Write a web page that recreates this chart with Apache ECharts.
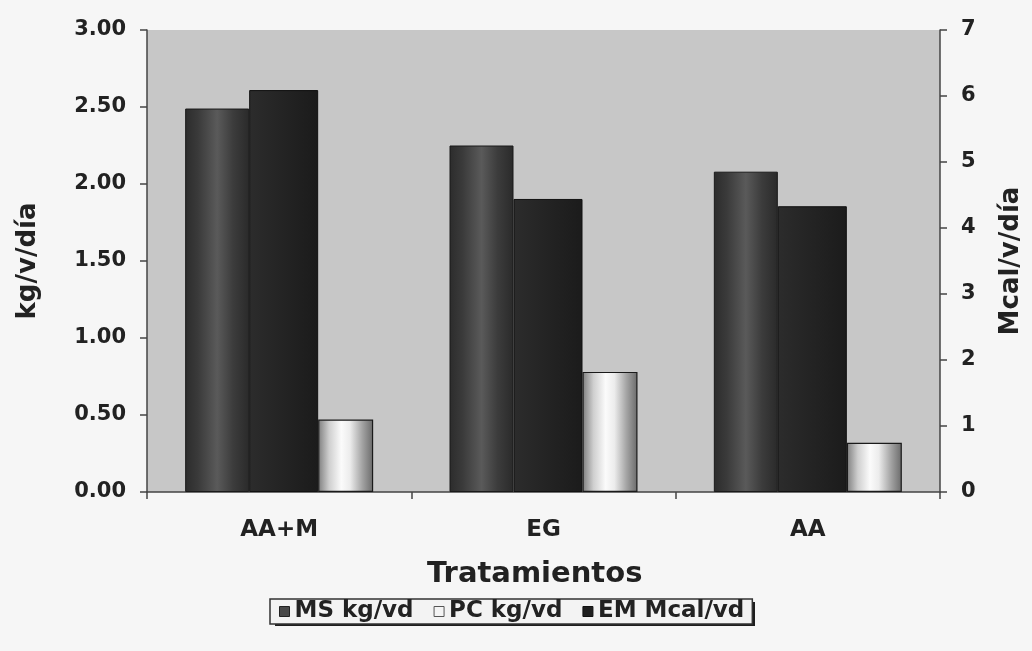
<!DOCTYPE html>
<html>
<head>
<meta charset="utf-8">
<title>Consumo por tratamiento</title>
<script src="https://cdn.jsdelivr.net/npm/echarts@6/dist/echarts.min.js"></script>
<style>
  html, body { margin: 0; padding: 0; background: #f6f6f6; }
  #chart { width: 1032px; height: 651px; }
</style>
</head>
<body>
<div id="chart"></div>
<script>
// Tratamientos en el eje de categorías
const categories = ['AA+M', 'EG', 'AA'];

// Consumo diario por vaca
const msKg = [2.49, 2.25, 2.08];     // MS kg/v/d (eje izquierdo)
const pcKg = [0.47, 0.78, 0.32];     // PC kg/v/d (eje izquierdo)
const emMcal = [6.09, 4.44, 4.33];   // EM Mcal/v/d (eje derecho)

// Nombres de series y títulos de ejes
const seriesNames = ['MS kg/vd', 'PC kg/vd', 'EM Mcal/vd'];
const leftAxisTitle = 'kg/v/día';
const rightAxisTitle = 'Mcal/v/día';
const xAxisTitle = 'Tratamientos';

// Escalas de los ejes
const leftMax = 3, leftStep = 0.5;
const rightMax = 7, rightStep = 1;

const FONT = '"DejaVu Sans", "Liberation Sans", Arial, sans-serif';
const INK = '#222';

function hGrad(stops) {
  return {
    type: 'linear', x: 0, y: 0, x2: 1, y2: 0,
    colorStops: stops.map(([o, c]) => ({ offset: o, color: c }))
  };
}

const msFill = hGrad([[0, '#2c2c2c'], [0.2, '#3a3a3a'], [0.5, '#5a5a5a'], [0.75, '#3c3c3c'], [1, '#2a2a2a']]);
const emFill = hGrad([[0, '#2c2c2c'], [0.4, '#252525'], [1, '#1b1b1b']]);
const pcFill = hGrad([[0, '#7e7e7e'], [0.2, '#cfcfcf'], [0.42, '#fbfbfb'], [0.58, '#ececec'], [0.8, '#a4a4a4'], [1, '#6a6a6a']]);

// Caja de la leyenda y su sombra
const LEG_X = 270, LEG_Y = 599, LEG_W = 480, LEG_H = 24;

const chart = echarts.init(document.getElementById('chart'), null, { renderer: 'canvas' });

chart.setOption({
  backgroundColor: '#f6f6f6',
  animation: false,
  title: {
    text: xAxisTitle,
    left: 427,
    top: 560,
    padding: 0,
    textStyle: { fontFamily: FONT, fontWeight: 'bold', fontSize: 29, color: INK }
  },
  graphic: [
    {
      type: 'rect',
      z: 1,
      silent: true,
      shape: { x: LEG_X + 5, y: LEG_Y + 3, width: LEG_W, height: LEG_H },
      style: { fill: '#1e1e1e' }
    }
  ],
  legend: {
    z: 5,
    data: [
      { name: seriesNames[0], itemStyle: { color: '#484848', borderColor: '#222', borderWidth: 1 } },
      { name: seriesNames[1], itemStyle: { color: '#f4f4f4', borderColor: '#555', borderWidth: 1 } },
      { name: seriesNames[2], itemStyle: { color: '#202020', borderColor: '#111', borderWidth: 1 } }
    ],
    left: LEG_X,
    top: LEG_Y,
    orient: 'horizontal',
    padding: [1, 8, 1, 9],
    itemWidth: 10,
    itemHeight: 10,
    itemGap: 20,
    icon: 'rect',
    backgroundColor: '#f3f3f3',
    borderColor: '#333',
    borderWidth: 1.5,
    borderRadius: 0,
    textStyle: { fontFamily: FONT, fontWeight: 'bold', fontSize: 23, color: INK }
  },
  grid: {
    left: 147,
    right: 92,
    top: 30,
    bottom: 159,
    show: true,
    backgroundColor: '#c7c7c7',
    borderWidth: 0
  },
  xAxis: {
    type: 'category',
    data: categories,
    boundaryGap: true,
    axisLine: { lineStyle: { color: '#444', width: 1.5 } },
    axisTick: { show: true, length: 7, lineStyle: { color: '#444', width: 1.5 } },
    axisLabel: {
      margin: 27,
      fontFamily: FONT, fontWeight: 'bold', fontSize: 23, color: INK
    }
  },
  yAxis: [
    {
      type: 'value',
      position: 'left',
      min: 0, max: leftMax, interval: leftStep,
      name: leftAxisTitle,
      nameLocation: 'middle',
      nameRotate: 90,
      nameGap: 106,
      nameTextStyle: { fontFamily: FONT, fontWeight: 'bold', fontSize: 26, color: INK },
      axisLine: { show: true, lineStyle: { color: '#444', width: 1.5 } },
      axisTick: { show: true, length: 7, lineStyle: { color: '#444', width: 1.5 } },
      splitLine: { show: false },
      axisLabel: {
        margin: 21,
        formatter: v => v.toFixed(2),
        fontFamily: FONT, fontWeight: 'bold', fontSize: 21, color: INK
      }
    },
    {
      type: 'value',
      position: 'right',
      min: 0, max: rightMax, interval: rightStep,
      name: rightAxisTitle,
      nameLocation: 'middle',
      nameRotate: 90,
      nameGap: 58,
      nameTextStyle: { fontFamily: FONT, fontWeight: 'bold', fontSize: 26, color: INK },
      axisLine: { show: true, lineStyle: { color: '#444', width: 1.5 } },
      axisTick: { show: true, length: 7, lineStyle: { color: '#444', width: 1.5 } },
      splitLine: { show: false },
      axisLabel: {
        margin: 21,
        fontFamily: FONT, fontWeight: 'bold', fontSize: 21, color: INK
      }
    }
  ],
  series: [
    {
      name: seriesNames[0],
      type: 'bar',
      yAxisIndex: 0,
      data: msKg,
      barWidth: 64,
      barGap: '0%',
      itemStyle: { color: msFill, borderColor: '#1a1a1a', borderWidth: 1 }
    },
    {
      name: seriesNames[2],
      type: 'bar',
      yAxisIndex: 1,
      data: emMcal,
      barWidth: 69,
      barGap: '0%',
      itemStyle: { color: emFill, borderColor: '#111', borderWidth: 1 }
    },
    {
      name: seriesNames[1],
      type: 'bar',
      yAxisIndex: 0,
      data: pcKg,
      barWidth: 55,
      barGap: '0%',
      itemStyle: { color: pcFill, borderColor: '#1a1a1a', borderWidth: 1.2 }
    }
  ]
});
</script>
</body>
</html>
